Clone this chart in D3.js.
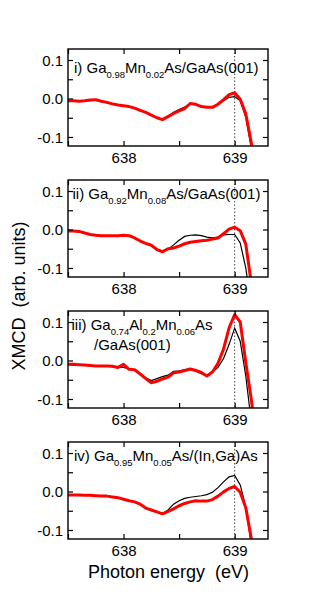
<!DOCTYPE html>
<html>
<head>
<meta charset="utf-8">
<script src="https://cdn.jsdelivr.net/npm/d3@7"></script>
<style>
  body { margin: 0; background: #fff; }
  svg text { font-family: "Liberation Sans", Arial, sans-serif; fill: #000; }
</style>
</head>
<body>
<svg id="chart" width="314" height="598"></svg>
<script>
// photon energy grid (eV), shared by all spectra
const energy = [637.50, 637.55, 637.60, 637.65, 637.70, 637.75, 637.80, 637.85, 637.90, 637.95,
  638.00, 638.05, 638.10, 638.15, 638.20, 638.25, 638.30, 638.35, 638.40, 638.45,
  638.50, 638.55, 638.60, 638.65, 638.70, 638.75, 638.80, 638.85, 638.90, 638.95,
  639.00, 639.05, 639.10, 639.15, 639.20];

// i) Ga0.98Mn0.02As/GaAs(001)
const blackI = [-0.007, -0.007, -0.007, -0.006, -0.005, -0.005, -0.008, -0.011, -0.014, -0.017,
  -0.019, -0.021, -0.025, -0.030, -0.036, -0.042, -0.050, -0.054, -0.046, -0.036,
  -0.029, -0.022, -0.014, -0.016, -0.021, -0.022, -0.022, -0.016, -0.006, 0.003,
  0.005, -0.006, -0.048, -0.130, -0.220];
const redI = [-0.006, -0.006, -0.007, -0.006, -0.004, -0.003, -0.007, -0.010, -0.014, -0.017,
  -0.019, -0.021, -0.025, -0.031, -0.036, -0.043, -0.050, -0.055, -0.047, -0.039,
  -0.032, -0.026, -0.013, -0.015, -0.021, -0.023, -0.023, -0.015, -0.003, 0.010,
  0.015, -0.002, -0.040, -0.115, -0.200];

// ii) Ga0.92Mn0.08As/GaAs(001)
const blackII = [-0.005, -0.005, -0.006, -0.009, -0.013, -0.015, -0.016, -0.016, -0.016, -0.016,
  -0.016, -0.017, -0.022, -0.030, -0.037, -0.042, -0.051, -0.056, -0.052, -0.040,
  -0.028, -0.018, -0.015, -0.014, -0.016, -0.020, -0.022, -0.020, -0.014, -0.013,
  -0.013, -0.035, -0.100, -0.200, -0.280];
const redII = [-0.004, -0.004, -0.005, -0.009, -0.013, -0.015, -0.016, -0.016, -0.016, -0.016,
  -0.015, -0.016, -0.022, -0.030, -0.036, -0.041, -0.052, -0.058, -0.050, -0.048,
  -0.043, -0.037, -0.033, -0.031, -0.029, -0.028, -0.025, -0.022, -0.011, 0.001,
  0.006, -0.003, -0.038, -0.140, -0.250];

// iii) Ga0.74Al0.2Mn0.06As/GaAs(001)
const blackIII = [-0.011, -0.012, -0.013, -0.013, -0.013, -0.013, -0.013, -0.015, -0.016, -0.017,
  -0.018, -0.022, -0.026, -0.036, -0.045, -0.052, -0.047, -0.042, -0.038, -0.028,
  -0.027, -0.024, -0.022, -0.028, -0.034, -0.041, -0.030, -0.018, 0.005, 0.042,
  0.084, 0.050, -0.040, -0.160, -0.280];
const redIII = [-0.010, -0.010, -0.011, -0.012, -0.013, -0.014, -0.014, -0.014, -0.015, -0.018,
  -0.010, -0.023, -0.024, -0.035, -0.047, -0.058, -0.054, -0.048, -0.043, -0.032,
  -0.030, -0.026, -0.022, -0.026, -0.031, -0.040, -0.030, -0.007, 0.030, 0.085,
  0.119, 0.100, -0.005, -0.101, -0.220];

// iv) Ga0.95Mn0.05As/(In,Ga)As
const blackIV = [-0.009, -0.009, -0.009, -0.010, -0.010, -0.011, -0.012, -0.012, -0.014, -0.016,
  -0.020, -0.024, -0.027, -0.033, -0.043, -0.048, -0.053, -0.057, -0.048, -0.033,
  -0.024, -0.018, -0.015, -0.013, -0.011, -0.008, -0.002, 0.010, 0.025, 0.038,
  0.042, 0.017, -0.040, -0.140, -0.250];
const redIV = [-0.009, -0.009, -0.009, -0.010, -0.010, -0.011, -0.012, -0.012, -0.014, -0.016,
  -0.020, -0.024, -0.027, -0.033, -0.043, -0.048, -0.053, -0.058, -0.052, -0.045,
  -0.037, -0.031, -0.027, -0.024, -0.025, -0.025, -0.021, -0.012, -0.001, 0.008,
  0.013, -0.002, -0.042, -0.122, -0.220];

// panel labels: [text, isSubscript] pieces, one array per line
const labelsI = [[["i) Ga", 0], ["0.98", 1], ["Mn", 0], ["0.02", 1], ["As/GaAs(001)", 0]]];
const labelsII = [[["ii) Ga", 0], ["0.92", 1], ["Mn", 0], ["0.08", 1], ["As/GaAs(001)", 0]]];
const labelsIII = [[["iii) Ga", 0], ["0.74", 1], ["Al", 0], ["0.2", 1], ["Mn", 0], ["0.06", 1], ["As", 0]],
  [["/GaAs(001)", 0]]];
const labelsIV = [[["iv) Ga", 0], ["0.95", 1], ["Mn", 0], ["0.05", 1], ["As/(In,Ga)As", 0]]];

const xTicks = [637.5, 638, 638.5, 639];
const xLabels = [638, 639];
const yTicks = [-0.1, -0.05, 0, 0.05, 0.1];
const yLabels = [-0.1, 0, 0.1];

const panels = [
  { black: blackI, red: redI, label: labelsI, top: 49, labelY: 73, labelX: [74] },
  { black: blackII, red: redII, label: labelsII, top: 180, labelY: 199, labelX: [72.5] },
  { black: blackIII, red: redIII, label: labelsIII, top: 311, labelY: 330, labelX: [71.5, 94] },
  { black: blackIV, red: redIV, label: labelsIV, top: 442, labelY: 461, labelX: [74] }
];

const left = 68, width = 200, height = 97;
const svg = d3.select("#chart");

const x = d3.scaleLinear().domain([637.5, 639.3]).range([0, width]);
const y = d3.scaleLinear().domain([-0.1234, 0.1286]).range([height, 0]);

const line = d3.line()
  .x(d => x(d[0]))
  .y(d => y(d[1]));

panels.forEach((p, k) => {
  const g = svg.append("g").attr("transform", "translate(" + left + "," + p.top + ")");

  g.append("clipPath").attr("id", "clip" + k)
    .append("rect").attr("width", width).attr("height", height);

  // dotted line at 639 eV
  g.append("line")
    .attr("x1", x(639)).attr("x2", x(639))
    .attr("y1", 0).attr("y2", height)
    .attr("stroke", "#444")
    .attr("stroke-width", 1)
    .attr("stroke-dasharray", "1.5,2");

  const plot = g.append("g").attr("clip-path", "url(#clip" + k + ")");
  plot.append("path")
    .attr("d", line(energy.map((e, i) => [e, p.black[i]])))
    .attr("fill", "none").attr("stroke", "#000").attr("stroke-width", 1.2);
  plot.append("path")
    .attr("d", line(energy.map((e, i) => [e, p.red[i]])))
    .attr("fill", "none").attr("stroke", "#ff0000").attr("stroke-width", 3)
    .attr("stroke-linejoin", "round");

  // axes, ticks pointing in
  const fmtY = d => yLabels.some(v => Math.abs(v - d) < 1e-9) ? d.toFixed(1) : "";
  const fmtX = d => xLabels.includes(d) ? String(d) : "";

  const axL = g.append("g")
    .call(d3.axisLeft(y).tickValues(yTicks).tickSizeInner(-5).tickSizeOuter(0).tickPadding(5).tickFormat(fmtY));
  const axR = g.append("g").attr("transform", "translate(" + width + ",0)")
    .call(d3.axisRight(y).tickValues(yTicks).tickSizeInner(-5).tickSizeOuter(0).tickFormat(""));
  const axB = g.append("g").attr("transform", "translate(0," + height + ")")
    .call(d3.axisBottom(x).tickValues(xTicks).tickSizeInner(-5).tickSizeOuter(0).tickPadding(6).tickFormat(fmtX));
  const axT = g.append("g")
    .call(d3.axisTop(x).tickValues(xTicks).tickSizeInner(-5).tickSizeOuter(0).tickFormat(""));

  [axL, axR, axB, axT].forEach(a => {
    a.select(".domain").remove();
    a.selectAll("line").attr("stroke", "#000").attr("stroke-width", 1.2);
    a.selectAll("text").style("font-size", "15px").attr("fill", "#000");
  });
  axL.selectAll("text").attr("dy", "0.35em");

  g.append("rect")
    .attr("width", width).attr("height", height)
    .attr("fill", "none").attr("stroke", "#000").attr("stroke-width", 1.4);

  // panel label
  p.label.forEach((pieces, li) => {
    const t = svg.append("text")
      .attr("x", p.labelX[li])
      .attr("y", p.labelY + li * 20)
      .style("font-size", "15px");
    let shifted = false;
    pieces.forEach(([s, sub]) => {
      const ts = t.append("tspan").text(s);
      if (sub && !shifted) { ts.attr("dy", 4.5).style("font-size", "9.5px"); shifted = true; }
      else if (!sub && shifted) { ts.attr("dy", -4.5); shifted = false; }
      else if (sub) ts.style("font-size", "9.5px");
    });
  });
});

// axis titles
svg.append("text")
  .attr("transform", "translate(25,296) rotate(-90)")
  .attr("text-anchor", "middle")
  .style("font-size", "18px")
  .style("white-space", "pre")
  .text("XMCD  (arb. units)");

svg.append("text")
  .attr("x", 168.5).attr("y", 578)
  .attr("text-anchor", "middle")
  .style("font-size", "18px")
  .style("white-space", "pre")
  .text("Photon energy  (eV)");
</script>
</body>
</html>
